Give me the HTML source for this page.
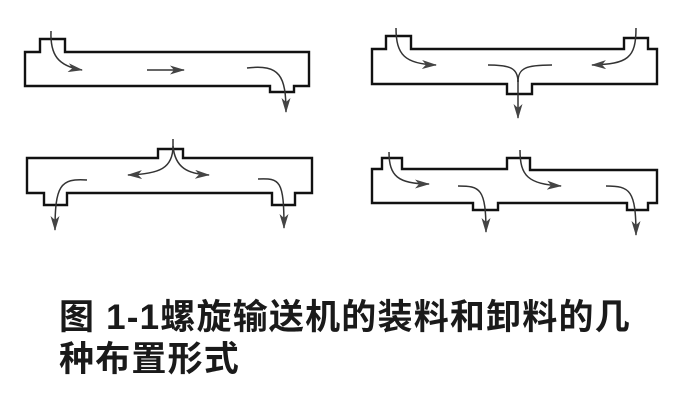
<!DOCTYPE html>
<html><head><meta charset="utf-8"><style>
html,body{margin:0;padding:0;background:#fff;width:700px;height:409px;overflow:hidden;position:relative}
.cap{position:absolute;left:59px;font-family:"Liberation Sans","Noto Sans CJK SC",sans-serif;font-size:35px;font-weight:700;color:#1a1a1a;line-height:40px;white-space:nowrap;letter-spacing:1.2px}
</style></head><body>
<svg width="700" height="409" style="position:absolute;left:0;top:0">
<defs>
<marker id="a" viewBox="0 0 15 9" refX="14" refY="4.5" markerWidth="15" markerHeight="9" markerUnits="userSpaceOnUse" orient="auto">
<path d="M0,0 L15,4.5 L0,9 L4,4.5 Z" fill="#444"/></marker>
</defs>
<g fill="none" stroke="#111" stroke-width="2.4">
<path d="M25,52 H40 V39 H65 V52 H309 V86 H294 V92 H270 V86 H25 Z"/>
<path d="M27,158 H158 V149 H183 V158 H312 V193 H295 V205 H272 V193 H67 V205 H44 V193 H27 Z"/>
<path d="M372,49 H386 V36 H411 V49 H624 V38 H648 V49 H657 V84 H532 V94 H507 V84 H372 Z"/>
<path d="M372,169 H382 V158 H402 V169 H507 V158 H530 V170 H657 V203 H648 V210 H627 V203 H498 V210 H473 V203 H372 Z"/>
</g>
<g fill="none" stroke="#333" stroke-width="1.5" marker-end="url(#a)">
<path d="M51,31 C50,55 58,66 82,70"/>
<path d="M147,70 H184"/>
<path d="M247,68 C280,64 286,76 286,112"/>
<path d="M173,139 V146 C173,168 160,174 128,175"/>
<path d="M173,146 C175,168 188,174 209,175"/>
<path d="M87,180 C60,178 55,186 55,230"/>
<path d="M258,179 C280,178 284,180 284,228"/>
<path d="M396,28 C396,55 405,64 436,65"/>
<path d="M636,28 C636,58 628,64 592,65"/>
<path d="M518,80 V118"/>
<path d="M389,152 C389,176 398,184 429,184"/>
<path d="M458,186 C480,186 486,188 486,232"/>
<path d="M520,150 C520,176 528,184 561,186"/>
<path d="M606,186 C630,186 636,190 636,235"/>
</g>
<g fill="none" stroke="#333" stroke-width="1.5">
<path d="M488,65 C510,65 518,68 518,82"/>
<path d="M552,65 C526,65 518,68 518,82"/>
</g>
</svg>
<div class="cap" style="top:298px">图 1-1螺旋输送机的装料和卸料的几</div>
<div class="cap" style="top:340px">种布置形式</div>
</body></html>
